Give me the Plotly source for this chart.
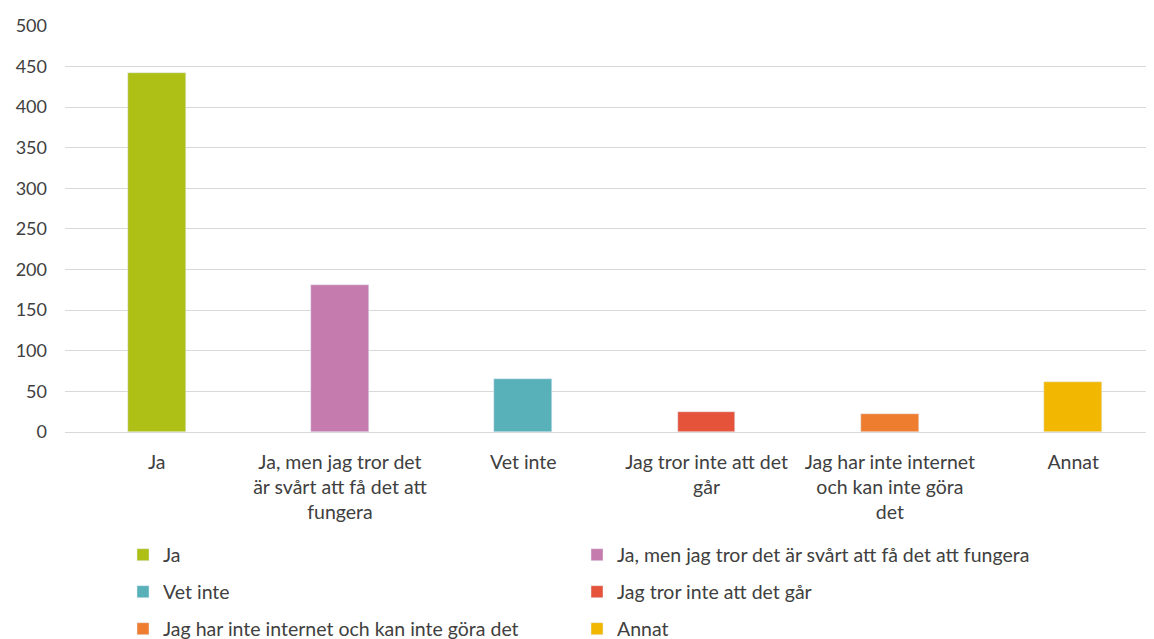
import plotly.graph_objects as go

categories = ["Ja", "Ja, men jag tror det är svårt att få det att fungera", "Vet inte",
              "Jag tror inte att det går", "Jag har inte internet och kan inte göra det", "Annat"]
tick_labels = ["Ja", "Ja, men jag tror det<br>är svårt att få det att<br>fungera", "Vet inte",
               "Jag tror inte att det<br>går", "Jag har inte internet<br>och kan inte göra<br>det", "Annat"]
values = [442, 181, 65, 25, 22, 62]
colors = ["#AEBF15", "#C57BAD", "#58B1B8", "#E4533A", "#EE7D2F", "#F2B701"]
legend_ids = ["legend", "legend", "legend2", "legend2", "legend3", "legend3"]

FONT = "Lato"
W, H = 1146, 631
fig = go.Figure()
for i, (c, v) in enumerate(zip(categories, values)):
    fig.add_trace(go.Bar(x=[i], y=[v], name=c, marker_color=colors[i], width=0.315,
                         legend=legend_ids[i], hoverinfo="y"))

def leg(ypx):
    return dict(orientation="h", xref="container", yref="container", x=115 / W, y=1 - (ypx - 8) / H,
                xanchor="left", yanchor="middle", entrywidth=409, entrywidthmode="pixels",
                font=dict(family=FONT, size=19.5, color="#404040"), bgcolor="rgba(0,0,0,0)",
                itemclick=False, itemdoubleclick=False, traceorder="normal")

fig.update_layout(
    width=W, height=H,
    margin=dict(l=57, r=2, t=17, b=207, autoexpand=False),
    paper_bgcolor="white", plot_bgcolor="white",
    barmode="overlay", bargap=0,
    font=dict(family=FONT, size=16, color="#404040"),
    showlegend=True,
    legend=leg(555),
    legend2=leg(592),
    legend3=leg(629),
    xaxis=dict(tickmode="array", tickvals=list(range(6)), ticktext=tick_labels,
               range=[-0.5, 5.43], showgrid=False, zeroline=False, showline=False,
               ticks="", ticklabelstandoff=16,
               tickfont=dict(family=FONT, size=19.5, color="#404040")),
    yaxis=dict(range=[0, 501], dtick=50, showgrid=True, gridcolor="#D9D9D9", gridwidth=1,
               zeroline=True, zerolinecolor="#D9D9D9", zerolinewidth=1, showline=False,
               ticks="", ticklabelstandoff=17,
               tickfont=dict(family=FONT, size=18, color="#404040")),
)
fig.write_html("out.html")
